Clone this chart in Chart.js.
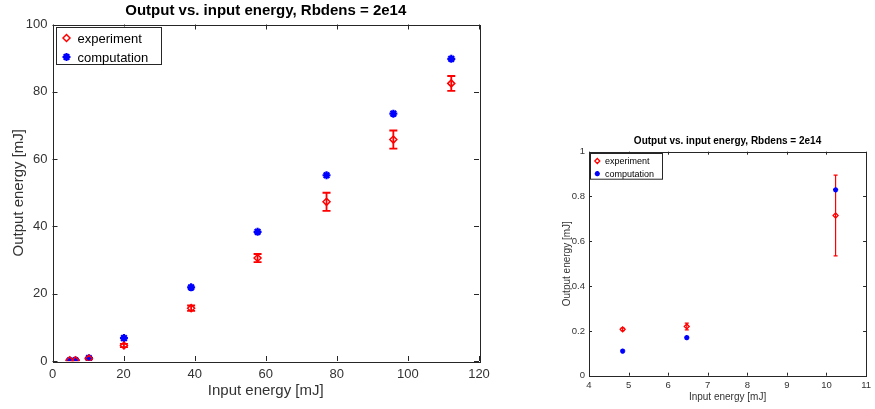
<!DOCTYPE html>
<html>
<head>
<meta charset="utf-8">
<script src="https://cdn.jsdelivr.net/npm/chart.js@4.4.0/dist/chart.umd.min.js"></script>
<style>
html, body { margin: 0; padding: 0; background: #fff; }
#left { position: absolute; left: 0; top: 0; width: 500px; height: 409px; }
#right { position: absolute; left: 540px; top: 130px; width: 335px; height: 279px; }
</style>
</head>
<body>
<div id="left"><canvas id="bigChart" width="500" height="409"></canvas></div>
<div id="right"><canvas id="smallChart" width="335" height="279"></canvas></div>
<script>
// values
const inputEnergy = [4.85, 6.47, 10.23, 20.1, 39.0, 57.7, 77.1, 95.9, 112.2];
const expOutput = [0.207, 0.22, 0.715, 4.6, 15.7, 30.6, 47.3, 65.8, 82.5];
const expError = [0.006, 0.015, 0.18, 0.5, 0.8, 1.2, 2.7, 2.7, 2.2];
const compOutput = [0.11, 0.17, 0.83, 6.8, 21.9, 38.4, 55.2, 73.5, 89.8];

const titleText = 'Output vs. input energy, Rbdens = 2e14';
const xTitle = 'Input energy [mJ]';
const yTitle = 'Output energy [mJ]';
const legendLabels = ['experiment', 'computation'];

const fontFamily = '"Liberation Sans", Arial, Helvetica, sans-serif';
const inkColor = '#262626';

function toPoints(xs, ys) {
    return xs.map((x, i) => ({ x: x, y: ys[i] }));
}

// draws the matlab-like box, inner ticks, title, error bars and legend
function matlabPlugin(cfg) {
    return {
        id: 'matlabFrame',
        beforeDatasetsDraw(chart) {
            const ctx = chart.ctx;
            const xs = chart.scales.x, ys = chart.scales.y;
            ctx.save();
            ctx.strokeStyle = cfg.errColor;
            ctx.lineWidth = cfg.errWidth;
            cfg.errX.forEach((x, i) => {
                const px = xs.getPixelForValue(x);
                const top = ys.getPixelForValue(cfg.errY[i] + cfg.err[i]);
                const bot = ys.getPixelForValue(cfg.errY[i] - cfg.err[i]);
                ctx.beginPath();
                ctx.moveTo(px, top); ctx.lineTo(px, bot);
                ctx.moveTo(px - cfg.cap, top); ctx.lineTo(px + cfg.cap, top);
                ctx.moveTo(px - cfg.cap, bot); ctx.lineTo(px + cfg.cap, bot);
                ctx.stroke();
            });
            ctx.restore();
        },
        afterDraw(chart) {
            const ctx = chart.ctx;
            const a = chart.chartArea;
            const xs = chart.scales.x, ys = chart.scales.y;
            ctx.save();
            ctx.strokeStyle = inkColor;
            ctx.lineWidth = cfg.boxWidth;
            ctx.strokeRect(Math.round(a.left) + 0.5, Math.round(a.top) + 0.5,
                Math.round(a.right - a.left), Math.round(a.bottom - a.top));
            // tick marks pointing inward
            ctx.beginPath();
            xs.ticks.forEach(t => {
                const p = Math.round(xs.getPixelForValue(t.value)) + 0.5;
                ctx.moveTo(p, a.bottom); ctx.lineTo(p, a.bottom - cfg.tickLen);
                ctx.moveTo(p, a.top); ctx.lineTo(p, a.top + cfg.tickLen);
            });
            ys.ticks.forEach(t => {
                const p = Math.round(ys.getPixelForValue(t.value)) + 0.5;
                ctx.moveTo(a.left, p); ctx.lineTo(a.left + cfg.tickLen, p);
                ctx.moveTo(a.right, p); ctx.lineTo(a.right - cfg.tickLen, p);
            });
            ctx.stroke();

            // title
            ctx.fillStyle = '#000';
            ctx.font = 'bold ' + cfg.titleSize + 'px ' + fontFamily;
            ctx.textAlign = 'center';
            ctx.textBaseline = 'middle';
            ctx.fillText(titleText, (a.left + a.right) / 2, cfg.titleY);

            // legend box
            const lg = cfg.legend;
            const bx = a.left + lg.x, by = a.top + lg.y;
            ctx.fillStyle = '#fff';
            ctx.fillRect(bx, by, lg.w, lg.h);
            ctx.lineWidth = 1;
            ctx.strokeStyle = inkColor;
            ctx.strokeRect(Math.round(bx) + 0.5, Math.round(by) + 0.5, lg.w, lg.h);
            ctx.font = lg.font + 'px ' + fontFamily;
            ctx.textAlign = 'left';
            chart.data.datasets.forEach((ds, i) => {
                const ry = by + lg.rows[i];
                ctx.save();
                ctx.fillStyle = ds.backgroundColor;
                ctx.strokeStyle = ds.borderColor;
                ctx.lineWidth = ds.borderWidth;
                Chart.helpers.drawPoint(ctx, {
                    pointStyle: ds.pointStyle, radius: ds.pointRadius,
                    rotation: 0, borderWidth: ds.borderWidth
                }, bx + lg.mark, ry);
                ctx.restore();
                ctx.fillStyle = '#000';
                ctx.fillText(legendLabels[i], bx + lg.text, ry + 1);
            });
            ctx.restore();
        }
    };
}

function makeChart(canvasId, n, cfg) {
    const xv = inputEnergy.slice(0, n);
    const ctx = document.getElementById(canvasId).getContext('2d');
    return new Chart(ctx, {
        type: 'scatter',
        data: {
            datasets: [
                {
                    label: legendLabels[0],
                    data: toPoints(xv, expOutput.slice(0, n)),
                    pointStyle: 'rectRot',
                    pointRadius: cfg.expRadius,
                    borderWidth: cfg.expBorder,
                    borderColor: '#ff0000',
                    backgroundColor: 'rgba(0,0,0,0)'
                },
                {
                    label: legendLabels[1],
                    data: toPoints(xv, compOutput.slice(0, n)),
                    pointStyle: 'star',
                    pointRadius: cfg.compRadius,
                    borderWidth: cfg.compBorder,
                    borderColor: '#0000ff',
                    backgroundColor: '#0000ff'
                }
            ]
        },
        options: {
            responsive: false,
            animation: false,
            layout: { padding: { top: cfg.top, right: cfg.right, left: 0, bottom: 0 } },
            plugins: {
                legend: { display: false },
                title: { display: false },
                tooltip: { enabled: false }
            },
            scales: {
                x: {
                    type: 'linear',
                    min: cfg.xMin, max: cfg.xMax,
                    afterFit: s => { s.height = cfg.xAxisH; },
                    grid: { display: false, drawTicks: false },
                    border: { display: false },
                    ticks: {
                        stepSize: cfg.xStep, padding: cfg.xTickPad, color: '#333',
                        maxRotation: 0, autoSkip: false,
                        font: { family: fontFamily, size: cfg.tickSize }
                    },
                    title: {
                        display: true, text: xTitle, color: '#333',
                        padding: { top: 0, bottom: cfg.xTitlePad },
                        font: { family: fontFamily, size: cfg.axisTitleSize }
                    }
                },
                y: {
                    type: 'linear',
                    min: cfg.yMin, max: cfg.yMax,
                    afterFit: s => { s.width = cfg.yAxisW; },
                    grid: { display: false, drawTicks: false },
                    border: { display: false },
                    ticks: {
                        stepSize: cfg.yStep, padding: cfg.yTickPad, color: '#333',
                        autoSkip: false,
                        font: { family: fontFamily, size: cfg.tickSize },
                        callback: v => String(+v.toFixed(2))
                    },
                    title: {
                        display: true, text: yTitle, color: '#333',
                        padding: { top: cfg.yTitlePad, bottom: 0 },
                        font: { family: fontFamily, size: cfg.axisTitleSize }
                    }
                }
            }
        },
        plugins: [matlabPlugin({
            errX: xv, errY: expOutput.slice(0, n), err: expError.slice(0, n),
            errColor: '#ff0000', errWidth: cfg.errWidth, cap: cfg.cap,
            boxWidth: 1, tickLen: cfg.tickLen,
            titleSize: cfg.titleSize, titleY: cfg.titleY,
            legend: cfg.legend
        })]
    });
}

makeChart('bigChart', inputEnergy.length, {
    top: 24.5, right: 21, xAxisH: 48, yAxisW: 52.5,
    xMin: 0, xMax: 120, xStep: 20, yMin: 0, yMax: 100, yStep: 20,
    tickSize: 13, axisTitleSize: 15, xTickPad: 6, yTickPad: 5,
    xTitlePad: 9, yTitlePad: 10,
    expRadius: 3.5, expBorder: 1.5, compRadius: 4, compBorder: 2.2,
    errWidth: 1.8, cap: 4, tickLen: 5,
    titleSize: 15, titleY: 10.5,
    legend: { x: 3, y: 2, w: 105, h: 37, mark: 11, text: 22, rows: [11.5, 30.5], font: 13 }
});

makeChart('smallChart', 3, {
    top: 21.7, right: 3.3, xAxisH: 33.3, yAxisW: 49,
    xMin: 4, xMax: 11, xStep: 1, yMin: 0, yMax: 1, yStep: 0.2,
    tickSize: 9.5, axisTitleSize: 10, xTickPad: 4, yTickPad: 4,
    xTitlePad: 6, yTitlePad: 21,
    expRadius: 2.5, expBorder: 1.3, compRadius: 2.6, compBorder: 1.6,
    errWidth: 1.2, cap: 2, tickLen: 3,
    titleSize: 10, titleY: 11.5,
    legend: { x: 1, y: 1.6, w: 72, h: 25.7, mark: 7.3, text: 15, rows: [7.7, 20.4], font: 9 }
});
</script>
</body>
</html>
